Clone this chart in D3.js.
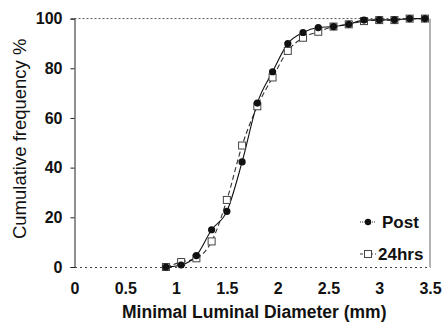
<!DOCTYPE html>
<html>
<head>
<meta charset="utf-8">
<script src="https://cdn.jsdelivr.net/npm/d3@7"></script>
<style>
  body { margin: 0; background: #fff; }
  text { font-family: "Liberation Sans", Arial, sans-serif; fill: #111; }
</style>
</head>
<body>
<script>
// MLD values (mm)
const diameters = [0.9, 1.05, 1.2, 1.35, 1.5, 1.65, 1.8, 1.95, 2.1, 2.25, 2.4, 2.55, 2.7, 2.85, 3.0, 3.15, 3.3, 3.45];
const postFreq = [0, 0.8, 4.6, 15, 22.4, 42.3, 66, 78.6, 89.9, 94.4, 96.4, 96.8, 97.7, 99.4, 99.5, 99.5, 100, 100];
const hrs24Freq = [0, 2, 3.5, 10.3, 27, 48.9, 64.7, 76.3, 87, 92.3, 94.7, 96.8, 97.7, 99, 99.4, 99.4, 100, 100];
const xTicks = [0, 0.5, 1, 1.5, 2, 2.5, 3, 3.5];
const yTicks = [0, 20, 40, 60, 80, 100];
const seriesNames = ["Post", "24hrs"];

const width = 445, height = 327;
const svg = d3.select("body").append("svg")
    .attr("width", width)
    .attr("height", height);

const x = d3.scaleLinear().domain([0, 3.5]).range([74.5, 430]);
const y = d3.scaleLinear().domain([0, 100]).range([267, 18.6]);

// plot frame: dotted top & bottom, grey right side
svg.append("line")
    .attr("x1", x(0)).attr("x2", x(3.5))
    .attr("y1", y(100)).attr("y2", y(100))
    .attr("stroke", "#555").attr("stroke-dasharray", "2,2");
svg.append("line")
    .attr("x1", x(3.5)).attr("x2", x(3.5))
    .attr("y1", y(100)).attr("y2", y(0))
    .attr("stroke", "#666");

// axes
const yAxis = svg.append("g")
    .attr("transform", `translate(${x(0)},0)`)
    .call(d3.axisLeft(y).tickValues(yTicks).tickSize(4).tickPadding(8));
const xAxis = svg.append("g")
    .attr("transform", `translate(0,${y(0)})`)
    .call(d3.axisBottom(x).tickValues(xTicks).tickSize(0).tickPadding(16)
        .tickFormat(d => d));

yAxis.select(".domain").attr("stroke", "#222");
xAxis.select(".domain").attr("stroke", "#444").attr("stroke-dasharray", "2,3");
yAxis.selectAll(".tick line").attr("stroke", "#222");
[yAxis, xAxis].forEach(a => a.selectAll("text")
    .style("font-size", "16px").style("font-weight", "bold")
    .attr("fill", "#111"));

// axis titles
svg.append("text")
    .attr("x", (x(0) + x(3.5)) / 2 + 2)
    .attr("y", 318)
    .attr("text-anchor", "middle")
    .style("font-size", "17.5px").style("font-weight", "bold")
    .text("Minimal Luminal Diameter (mm)");
svg.append("text")
    .attr("transform", `translate(26,${y(50) - 4}) rotate(-90)`)
    .attr("text-anchor", "middle")
    .style("font-size", "18.5px")
    .text("Cumulative frequency %");

// lines
const lineFor = vals => d3.line()
    .x((d, i) => x(diameters[i]))
    .y(d => y(d))
    .curve(d3.curveMonotoneX)(vals);

svg.append("path")
    .attr("d", lineFor(hrs24Freq))
    .attr("fill", "none").attr("stroke", "#333")
    .attr("stroke-width", 1.1).attr("stroke-dasharray", "5,3");
svg.append("path")
    .attr("d", lineFor(postFreq))
    .attr("fill", "none").attr("stroke", "#111")
    .attr("stroke-width", 1.1);

// markers
svg.selectAll("rect.h24")
    .data(hrs24Freq)
    .enter().append("rect")
    .attr("class", "h24")
    .attr("x", (d, i) => x(diameters[i]) - 3.5)
    .attr("y", d => y(d) - 3.5)
    .attr("width", 7).attr("height", 7)
    .attr("fill", "#fff").attr("stroke", "#444").attr("stroke-width", 1);
svg.selectAll("circle.post")
    .data(postFreq)
    .enter().append("circle")
    .attr("class", "post")
    .attr("cx", (d, i) => x(diameters[i]))
    .attr("cy", d => y(d))
    .attr("r", 3.6)
    .attr("fill", "#111");

// legend
const legend = svg.append("g");
seriesNames.forEach((name, i) => {
    const ly = 222 + i * 32;
    const g = legend.append("g").attr("transform", `translate(368,${ly})`);
    g.append("line").attr("x1", -8).attr("x2", 8)
        .attr("stroke", "#333").attr("stroke-dasharray", i ? "3,2" : "1,1");
    if (i === 0) {
        g.append("circle").attr("r", 3.2).attr("fill", "#111");
    } else {
        g.append("rect").attr("x", -3.5).attr("y", -3.5).attr("width", 7).attr("height", 7)
            .attr("fill", "#fff").attr("stroke", "#444");
    }
    g.append("text")
        .attr("x", i ? 10 : 14).attr("y", 6)
        .style("font-size", "17px").style("font-weight", "bold")
        .text(name);
});
</script>
</body>
</html>
